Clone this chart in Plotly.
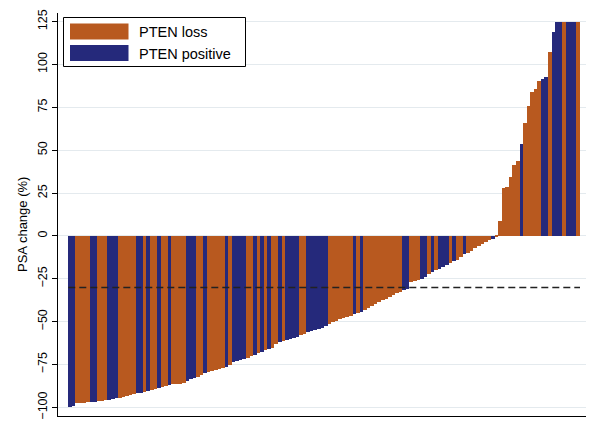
import plotly.graph_objects as go

# ---- data ----
psa_change = [
    -100, -99, -97.5, -97.3, -97.2, -97, -96.8, -96.6, -96.4, -96.1,
    -95.8, -95.5, -95.1, -94.7, -94.3, -93.8, -93.2, -92.7, -92.2, -91.7,
    -91.3, -90.9, -90.5, -90.0, -89.4, -88.9, -88.3, -87.6, -86.9, -86.6,
    -86.4, -86.1, -85.6, -84.8, -83.6, -82.8, -82.0, -80.9, -80.0, -79.3,
    -78.7, -78.1, -77.6, -77.1, -76.2, -75.3, -73.6, -72.8, -72.3, -71.7,
    -71.3, -70.2, -69.4, -68.1, -67.4, -66.3, -66.0, -65.6, -63.0, -62.0,
    -61.5, -60.6, -60.0, -59.4, -58.8, -58.0, -56.9, -56.1, -55.6, -55.1,
    -54.4, -53.6, -52.7, -51.2, -50.2, -49.4, -48.4, -47.7, -47.1, -46.4,
    -45.7, -45.0, -44.2, -43.2, -42.1, -40.7, -39.6, -38.6, -37.5, -36.5,
    -35.4, -34.4, -33.4, -32.4, -31.5, -30.8, -27.0, -26.3, -25.6, -24.9,
    -24.2, -22.3, -20.9, -19.9, -19.0, -17.9, -16.9, -15.9, -14.9, -13.8,
    -12.2, -10.8, -9.9, -8.6, -7.3, -6.0, -4.8, -3.6, -2.5, -1.7,
    -0.8, 8.7, 28.0, 28.5, 34.6, 41.4, 43.7, 53.7, 65.7, 75.8,
    83.8, 85.5, 90.2, 91.8, 92.5, 107.5, 119.0, 125, 125, 125,
    125, 125, 125, 125,
]
# L = PTEN loss, P = PTEN positive (one letter per patient, same order)
pten_status = list(
    "PPLLLLPPLL" "LPPPLLLLLP" "PLPLLPLLPL" "LLLPPPLLPL" "LLLLPLPPPP"
    "LLPLPLPLLP" "LPPPPLLPPP" "PPPLLLLLLL" "PLPLLLLLLL" "LLLLPPLLLP"
    "PLPLPPPLPL" "LPLLLLLLLP" "LLLLLLLPLL" "LLLPPLPPPL" "PPPL"
)
legend_labels = ["PTEN loss", "PTEN positive"]
y_title = "PSA change (%)"
threshold = -30
y_ticks = [-100, -75, -50, -25, 0, 25, 50, 75, 100, 125]

ORANGE = "#B8591F"
BLUE = "#25297B"

W, H = 589, 422
ML, MR, MT, MB = 58, 3, 13, 6
PW, PH = W - ML - MR, H - MT - MB


def px_x(px):
    return (px - ML) / PW


def px_y(py):
    return (H - MB - py) / PH


idx = list(range(len(psa_change)))
fig = go.Figure()
for code, name, color in [("L", legend_labels[0], ORANGE), ("P", legend_labels[1], BLUE)]:
    xs = [i for i in idx if pten_status[i] == code]
    ys = [psa_change[i] for i in idx if pten_status[i] == code]
    fig.add_trace(go.Bar(x=xs, y=ys, name=name, width=1.0,
                         marker=dict(color=color, line=dict(width=0)),
                         showlegend=False))

n = len(psa_change)
fig.add_shape(type="line", xref="x", yref="y", x0=-0.5, x1=n - 0.5,
              y0=threshold, y1=threshold, layer="above",
              line=dict(color="#222222", width=1.5, dash="7px,4px"))

# manual legend (wide swatches like the original)
fig.add_shape(type="rect", xref="paper", yref="paper",
              x0=px_x(63.5), x1=px_x(245.5), y0=px_y(66.5), y1=px_y(17.5),
              line=dict(color="black", width=1), fillcolor="white", layer="above")
for k, (lab, col, top) in enumerate([(legend_labels[0], ORANGE, 23.5),
                                     (legend_labels[1], BLUE, 45)]):
    fig.add_shape(type="rect", xref="paper", yref="paper",
                  x0=px_x(70), x1=px_x(128.5), y0=px_y(top + 16), y1=px_y(top),
                  line=dict(width=0), fillcolor=col, layer="above")
    fig.add_annotation(xref="paper", yref="paper", x=px_x(137), y=px_y(top + 8.5),
                       text=lab, showarrow=False, xanchor="left", yanchor="middle",
                       font=dict(family="Liberation Sans, Arial", size=14.5, color="black"))

# y-axis title placed like the original (slightly below the plot centre)
fig.add_annotation(xref="paper", yref="paper", x=px_x(22), y=px_y(225),
                   text=y_title, textangle=-90, showarrow=False,
                   xanchor="center", yanchor="middle",
                   font=dict(family="Liberation Sans, Arial", size=13, color="black"))

fig.update_layout(
    width=W, height=H,
    margin=dict(l=ML, r=MR, t=MT, b=MB, pad=0, autoexpand=False),
    paper_bgcolor="white", plot_bgcolor="white",
    barmode="overlay", bargap=0,
    font=dict(family="Liberation Sans, Arial", color="black"),
)
fig.update_xaxes(range=[-3.4, n - 0.5 + 6 / 3.553], showticklabels=False,
                 ticks="", showgrid=False, zeroline=False, automargin=False,
                 showline=True, linecolor="black", linewidth=1)
fig.update_yaxes(range=[-105, 130], tickvals=y_ticks, ticks="outside", ticklen=5,
                 tickcolor="black", tickangle=-90, tickfont=dict(size=12.5),
                 showgrid=True, gridcolor="#E4EAEE", gridwidth=1, zeroline=False,
                 showline=True, linecolor="black", linewidth=1, automargin=False)

fig.write_html("out.html", config={"displayModeBar": False},
               post_script="document.body.style.margin='0';document.body.style.padding='0';")
